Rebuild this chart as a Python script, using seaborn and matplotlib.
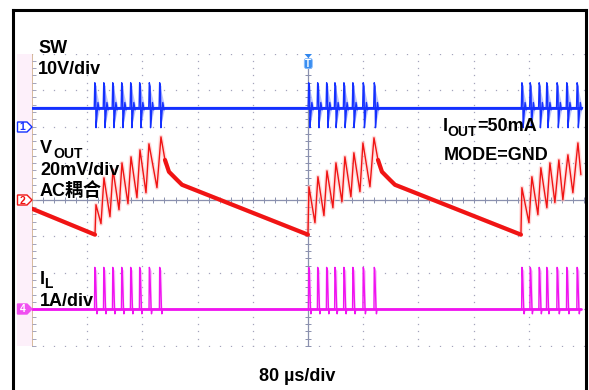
import numpy as np
import matplotlib.pyplot as plt
import seaborn as sns
from matplotlib.patches import Polygon, FancyBboxPatch, Rectangle

# ---------------- DATA ----------------
# time base 80 us/div, 10 div wide -> 0..800 us
# switching instants of each burst (us)
burst_1 = [91, 104, 117, 130, 143, 156, 170, 185]
burst_2 = [401, 414, 427, 439, 452, 465, 480, 496]
burst_3 = [710, 722, 735, 746, 761, 775, 790]
t_end = 795

# SW node (V), 10 V/div, ground marker 2 div above centre
sw_idle_v = 5.2
sw_shape_dt = [-0.8, 0.0, 1.2, 1.8, 3.2, 4.6, 6.2, 8.0]
sw_shape_v = [5.2, 12.0, 11.0, -0.3, 3.5, 6.6, 4.6, 5.2]
sw_glow_dt = [0.0, 1.2, 7.5, 7.5, 1.8]
sw_glow_v = [12.0, 11.0, 5.8, 4.6, -0.3]

# VOUT ripple (mV), 20 mV/div, AC coupled, centred
vout_t = [0.0, 91.3,
          92.7, 100.0, 104.3, 113.0, 117.4, 126.1, 130.4, 139.1, 143.5, 152.1,
          156.5, 165.2, 169.5, 181.1, 186.9,
          192.7, 198.5, 210.1, 217.4, 399.9,
          401.4, 410.1, 414.4, 423.1, 427.5, 436.1, 440.5, 449.2, 453.5, 462.2,
          466.5, 475.3, 479.6, 489.8, 495.6,
          501.4, 507.2, 518.7, 526.0, 708.6,
          710.0, 720.2, 724.5, 733.2, 737.5, 746.2, 750.6, 757.8, 763.6, 769.4,
          776.7, 783.9, 791.2, 795.5]
vout_mv = [-4.9, -19.1,
           -2.7, -13.1, 12.0, -9.3, 16.4, -5.5, 20.2, -2.2, 23.5, 1.1,
           27.3, 3.8, 30.6, 6.6, 34.4,
           21.8, 15.3, 10.9, 8.2, -19.1,
           7.1, -12.6, 12.6, -8.7, 15.8, -4.4, 20.2, -1.1, 23.5, 1.6,
           25.7, 4.4, 31.1, 7.1, 33.9,
           21.8, 15.3, 10.9, 8.2, -19.1,
           6.6, -12.6, 12.6, -8.2, 17.5, -4.4, 20.2, -1.6, 21.8, 0.0,
           24.6, 3.8, 31.1, 13.7]
vout_burst_start = [91.3, 399.9, 708.6]
vout_burst_end = [192.7, 501.4, 800.0]

# inductor current (A), 1 A/div, zero 3 div below centre
il_shape_dt = [-0.4, 0.0, 0.6, 1.6, 2.6, 3.2, 4.2]
il_shape_a = [0.0, 1.15, 1.12, 0.55, 0.05, -0.12, 0.0]
il_glow_dt = [0.0, 3.6, 3.6, 0.6]
il_glow_a = [1.15, 1.05, 0.0, 0.0]

# ---------------- STYLE ----------------
sns.set_style("white")
plt.rcParams["font.family"] = ["Liberation Sans", "Noto Sans CJK SC"]

blue = "#1430ff"
blue_lt = "#b4bcfb"
red = "#f01414"
pink = "#ffc4c4"
mag = "#f014f0"
mag_lt = "#f8b0f8"
grid_c = "#a4a4bc"
cross_c = "#8a90ae"

W, H = 589, 390
fig = plt.figure(figsize=(W / 100, H / 100), dpi=100)

# screen area in pixels: x 32..584, y 53.5..346
ax = fig.add_axes([32 / W, (H - 346) / H, 552 / W, 292.5 / H])
ax.set_xlim(0, 800)
ax.set_ylim(-4, 4)
ax.set_axis_off()

# ---------------- GRATICULE ----------------
minor_x = np.arange(0, 800.1, 16)
minor_y = np.arange(-4, 4.01, 0.2)
for xv in np.arange(80, 800, 80):
    ax.plot(np.full_like(minor_y, xv), minor_y, ls="none", marker="s", ms=0.9,
            color=grid_c, mew=0)
for yv in np.arange(-4, 5, 1):
    ax.plot(minor_x, np.full_like(minor_x, yv), ls="none", marker="s", ms=0.9,
            color=grid_c, mew=0)
ax.axhline(0, color=cross_c, lw=0.9)
ax.axvline(400, color=cross_c, lw=0.9)
ax.plot(minor_x, np.zeros_like(minor_x), ls="none", marker="|", ms=4, color=cross_c, mew=0.7)
ax.plot(np.full_like(minor_y, 400), minor_y, ls="none", marker="_", ms=4, color=cross_c, mew=0.7)
ax.axvline(0, color="#d4b494", lw=1.3)
ax.plot(np.full_like(minor_y, 2.5), minor_y, ls="none", marker="_", ms=2.5, color=grid_c, mew=0.7)

# one twin axis per channel, each with its own volts/div and offset
ax_sw = ax.twinx()
ax_sw.set_ylim(-60, 20)
ax_v = ax.twinx()
ax_v.set_ylim(-80, 80)
ax_il = ax.twinx()
ax_il.set_ylim(-1, 7)
for a in (ax_sw, ax_v, ax_il):
    a.set_xlim(0, 800)
    a.set_axis_off()

pulses = burst_1 + burst_2 + burst_3

# ---------------- SW ----------------
ax_sw.plot([0, t_end], [sw_idle_v, sw_idle_v], color=blue, lw=2.0)
sw_t, sw_v = [0.0], [sw_idle_v]
for tp in pulses:
    sw_t += [tp + d for d in sw_shape_dt]
    sw_v += sw_shape_v
    ax_sw.fill([tp + d for d in sw_glow_dt], sw_glow_v, color=blue_lt, lw=0, alpha=0.85)
sw_t.append(t_end)
sw_v.append(sw_idle_v)
sns.lineplot(x=sw_t, y=sw_v, sort=False, estimator=None, color=blue, lw=1.0, ax=ax_sw)

# ---------------- VOUT ----------------
vt = np.array(vout_t)
vm = np.array(vout_mv)
ax_v.plot(vt, vm, color=pink, lw=3.0, alpha=0.6, solid_joinstyle="round")
sns.lineplot(x=vt, y=vm, sort=False, estimator=None, color=red, lw=1.0, ax=ax_v)
inside = np.zeros(len(vt), dtype=bool)
for s, e in zip(vout_burst_start, vout_burst_end):
    inside |= (vt > s) & (vt < e)
ax_v.plot(vt, np.where(inside, np.nan, vm), color=red, lw=3.0, solid_capstyle="round")

# ---------------- IL ----------------
ax_il.plot([0, t_end], [0, 0], color=mag, lw=2.0)
il_t, il_a = [0.0], [0.0]
for tp in pulses:
    il_t += [tp + d for d in il_shape_dt]
    il_a += il_shape_a
    ax_il.fill([tp + d for d in il_glow_dt], il_glow_a, color=mag_lt, lw=0, alpha=0.85)
il_t.append(t_end)
il_a.append(0.0)
sns.lineplot(x=il_t, y=il_a, sort=False, estimator=None, color=mag, lw=1.0, ax=ax_il)

for a in (ax_sw, ax_v, ax_il):
    a.set_xlim(0, 800)
    if a.get_legend():
        a.get_legend().remove()

# ---------------- OVERLAY (pixel coords) ----------------
ov = fig.add_axes([0, 0, 1, 1])
ov.set_xlim(0, W)
ov.set_ylim(H, 0)
ov.set_axis_off()
ov.patch.set_alpha(0)

ov.add_patch(Rectangle((17, 53.5), 15, 292.5, color="#fdf0fa", lw=0, zorder=0))
ov.plot([12.5, 12.5], [H + 2, 9.5], color="black", lw=2.2, solid_capstyle="projecting")
ov.plot([12.5, 586], [9.5, 9.5], color="black", lw=2.2, solid_capstyle="projecting")
ov.plot([586, 586], [9.5, H + 2], color="black", lw=2.2, solid_capstyle="projecting")


def tag(yc, edge, face, txt_c, label):
    pts = [(17.5, yc - 5), (27, yc - 5), (32, yc), (27, yc + 5), (17.5, yc + 5)]
    ov.add_patch(Polygon(pts, closed=True, ec=edge, fc=face, lw=1.0, zorder=3))
    ov.text(22.5, yc + 0.5, label, color=txt_c, fontsize=7.5, fontweight="bold",
            ha="center", va="center", zorder=4)


tag(127, blue, "white", blue, "1")
tag(200, red, "white", red, "2")
tag(309, "#f050f0", "#f050f0", "white", "4")

# trigger marker
ov.add_patch(Polygon([(304.5, 54), (312, 54), (308.3, 58)], closed=True, fc="#2f86ee", lw=0, zorder=3))
ov.add_patch(FancyBboxPatch((304.3, 58.5), 8, 10, boxstyle="round,pad=0,rounding_size=2",
                            fc="#3a8ef0", ec="#8cc0ff", lw=0.6, zorder=3))
ov.text(308.3, 64, "T", color="white", fontsize=7, fontweight="bold", ha="center",
        va="center", zorder=4)

txt = dict(fontsize=13, fontweight="bold", color="black", va="baseline")
sub = dict(fontsize=10, fontweight="bold", color="black", va="baseline")
ov.text(38, 53, "SW", **txt)
ov.text(38, 73.5, "10V/div", **txt)
ov.text(40, 153, "V", **txt)
ov.text(53, 158, "OUT", **sub)
ov.text(40, 175, "20mV/div", **txt)
ov.text(40, 196.5, "AC耦合", **txt)
ov.text(39.5, 284, "I", **txt)
ov.text(44, 288.5, "L", **sub)
ov.text(40, 306, "1A/div", **txt)
ov.text(443, 131, "I", **txt)
ov.text(447, 135.5, "OUT", **sub)
ov.text(477, 131, "=50mA", **txt)
ov.text(444, 160, "MODE=GND", **txt)
ov.text(259, 381, "80 µs/div", **txt)

fig.savefig("out.png", dpi=100)
